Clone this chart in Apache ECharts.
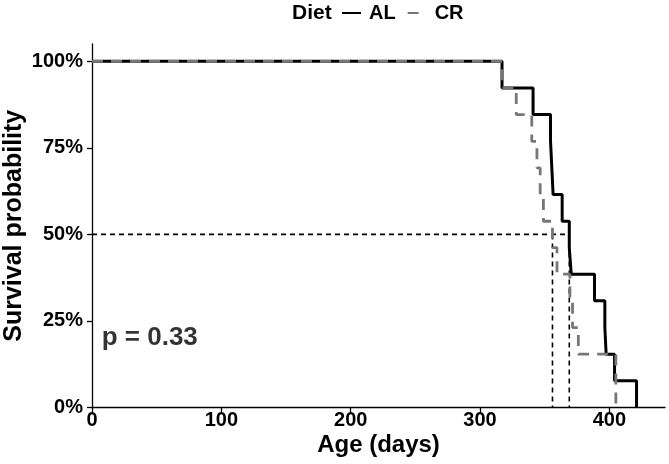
<!DOCTYPE html>
<html>
<head>
<meta charset="utf-8">
<script src="https://cdn.jsdelivr.net/npm/echarts@6/dist/echarts.min.js"></script>
<style>
html,body{margin:0;padding:0;background:#fff;}
#chart{width:669px;height:464px;}
</style>
</head>
<body>
<div id="chart"></div>
<script>
// Kaplan-Meier step data
const timesAL = [0, 317, 341, 354.5, 355.5, 356.5, 363.5, 369, 370.5, 388.5, 396.5, 397.5, 404, 421];
const survAL  = [1, 0.923, 0.846, 0.769, 0.692, 0.615, 0.538, 0.462, 0.385, 0.308, 0.231, 0.154, 0.077, 0];
const timesCR = [0, 317, 328, 340, 344, 346.5, 349, 356, 359.5, 369.5, 371.5, 376, 405];
const survCR  = [1, 0.923, 0.846, 0.769, 0.692, 0.615, 0.538, 0.462, 0.385, 0.308, 0.231, 0.154, 0];
const groups = ['AL', 'CR'];
const medianAL = 369;
const medianCR = 356;
const medianLevel = 0.5;
const xTicks = [0, 100, 200, 300, 400];
const yTicks = [0, 0.25, 0.5, 0.75, 1];
const xMax = 443;
const yMax = 1.05;
const pText = 'p = 0.33';
const pPos = [7.5, 0.2];

const FONT = 'Liberation Sans, Arial, Helvetica, sans-serif';
const zip = (a, b) => a.map((v, i) => [v, b[i]]);

const chart = echarts.init(document.getElementById('chart'), null, {renderer: 'canvas'});
const dashMed = {color: '#000', width: 1.6, type: [5, 4]};

const option = {
  animation: false,
  backgroundColor: '#fff',
  textStyle: {fontFamily: FONT},
  grid: {left: 92, top: 44, width: 573, height: 363.5, containLabel: false, outerBoundsMode: 'none'},
  legend: {
    data: groups,
    top: 3,
    left: 341,
    padding: 0,
    itemWidth: 19,
    itemHeight: 14,
    itemGap: 11,
    itemStyle: {opacity: 0},
    textStyle: {fontSize: 20, color: '#000', fontWeight: 'bold', fontFamily: FONT, padding: [0, 0, 0, 3]}
  },
  graphic: [{
    type: 'text', left: 292, top: 3,
    style: {text: 'Diet', fontSize: 21, fontWeight: 'bold', fill: '#000', fontFamily: FONT}
  }],
  xAxis: {
    type: 'value', min: 0, max: xMax,
    name: 'Age (days)', nameLocation: 'middle', nameGap: 26, nameMoveOverlap: false,
    nameTextStyle: {fontSize: 24, fontWeight: 'bold', color: '#000', fontFamily: FONT},
    axisLine: {show: true, onZero: false, lineStyle: {color: '#000', width: 1.3}},
    axisTick: {show: true, length: 5, customValues: xTicks, lineStyle: {color: '#000', width: 1.3}},
    axisLabel: {customValues: xTicks, fontSize: 20, fontWeight: 'bold', color: '#000', margin: 3, fontFamily: FONT},
    splitLine: {show: false}
  },
  yAxis: {
    type: 'value', min: 0, max: yMax,
    name: 'Survival probability', nameLocation: 'middle', nameGap: 65, nameMoveOverlap: false,
    nameTextStyle: {fontSize: 25, fontWeight: 'bold', color: '#000', fontFamily: FONT},
    axisLine: {show: true, onZero: false, lineStyle: {color: '#000', width: 1.3}},
    axisTick: {show: true, length: 5, customValues: yTicks, lineStyle: {color: '#000', width: 1.3}},
    axisLabel: {customValues: yTicks, fontSize: 20, fontWeight: 'bold', color: '#000', margin: 9, fontFamily: FONT,
      formatter: v => Math.round(v * 100) + '%'},
    splitLine: {show: false}
  },
  series: [
    {
      name: 'AL', type: 'line', step: 'end', symbol: 'none', z: 3,
      data: zip(timesAL, survAL),
      lineStyle: {color: '#000', width: 3, type: 'solid'},
      itemStyle: {color: '#000'}
    },
    {
      name: 'CR', type: 'line', step: 'end', symbol: 'none', z: 4,
      data: zip(timesCR, survCR),
      lineStyle: {color: '#777', width: 2.8, type: [11, 8]},
      itemStyle: {color: '#777'}
    },
    {
      name: 'medH', type: 'line', symbol: 'none', silent: true, z: 2,
      data: [[0, medianLevel], [medianAL, medianLevel]],
      lineStyle: dashMed
    },
    {
      name: 'medCR', type: 'line', symbol: 'none', silent: true, z: 2,
      data: [[medianCR, medianLevel], [medianCR, 0]],
      lineStyle: dashMed
    },
    {
      name: 'medAL', type: 'line', symbol: 'none', silent: true, z: 2,
      data: [[medianAL, medianLevel], [medianAL, 0]],
      lineStyle: dashMed
    },
    {
      name: 'pval', type: 'scatter', symbolSize: 0, silent: true,
      data: [pPos],
      label: {show: true, position: 'right', distance: 0, formatter: pText,
        fontSize: 26, fontWeight: 'bold', color: '#000', fontFamily: FONT, align: 'left', verticalAlign: 'middle'}
    }
  ]
};
chart.setOption(option);
</script>
</body>
</html>
